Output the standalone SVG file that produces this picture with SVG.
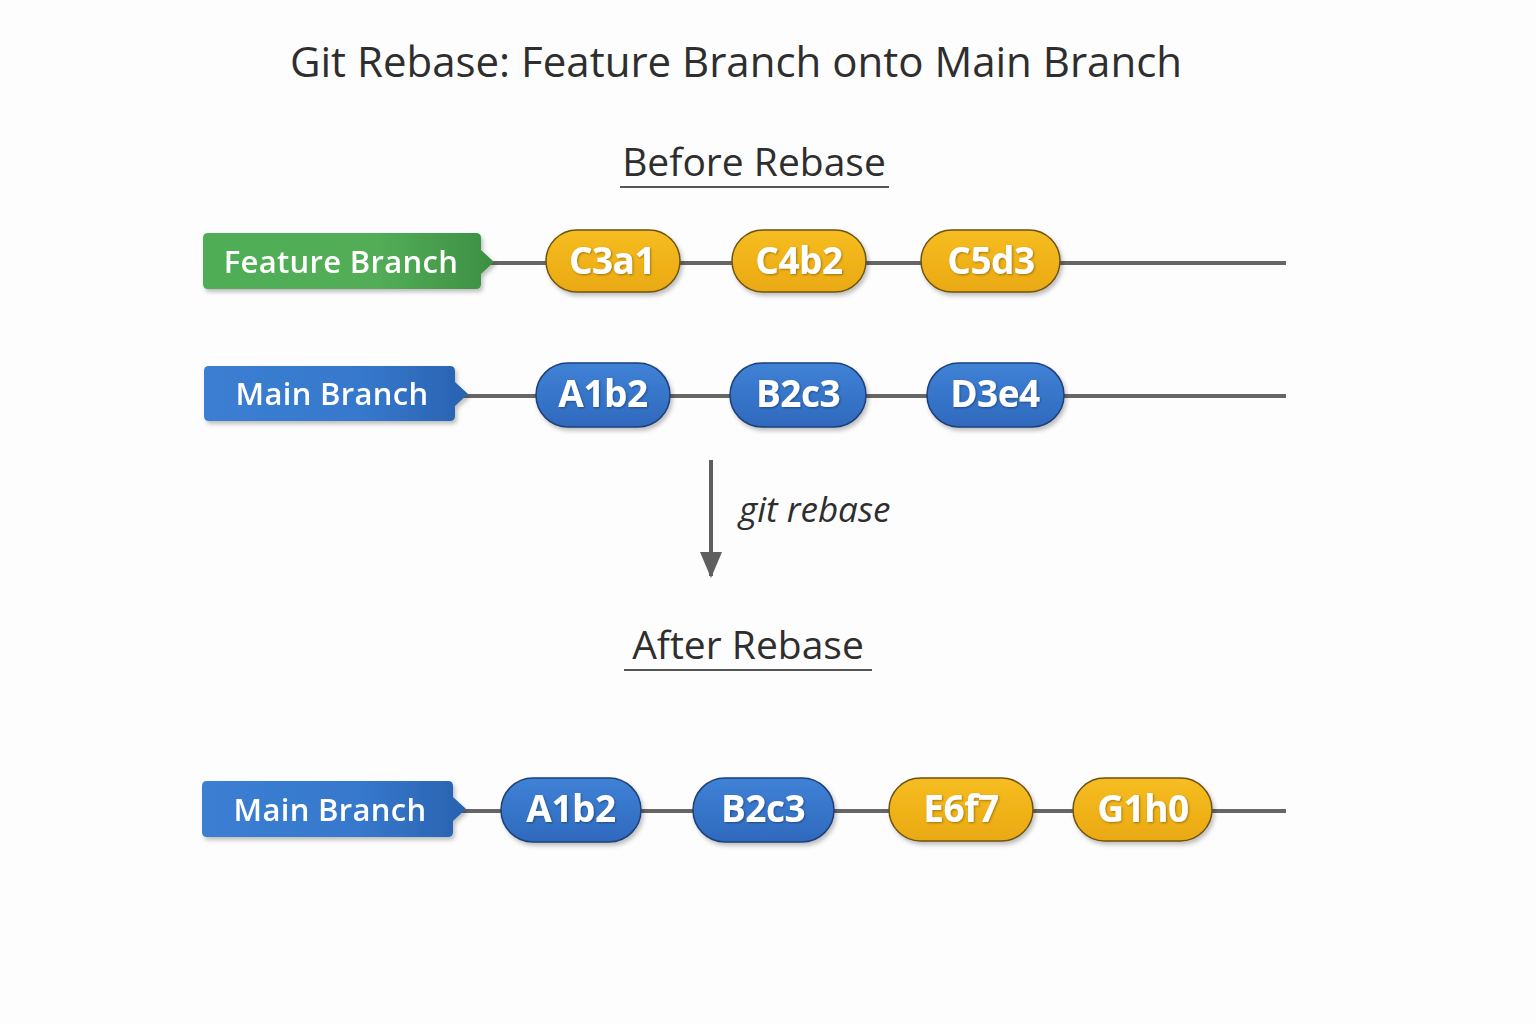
<svg xmlns="http://www.w3.org/2000/svg" width="1536" height="1024" viewBox="0 0 1536 1024">
<defs>
<linearGradient id="gGreen" x1="0" y1="0" x2="1" y2="0"><stop offset="0" stop-color="#4fae55"/><stop offset="0.6" stop-color="#52ad57"/><stop offset="1" stop-color="#3d8f42"/></linearGradient>
<linearGradient id="gBlue" x1="0" y1="0" x2="1" y2="0"><stop offset="0" stop-color="#3b7fd2"/><stop offset="0.6" stop-color="#3678cc"/><stop offset="1" stop-color="#2a62b0"/></linearGradient>
<linearGradient id="gYel" x1="0" y1="0" x2="0" y2="1"><stop offset="0" stop-color="#f6bd22"/><stop offset="1" stop-color="#eaa911"/></linearGradient>
<linearGradient id="gPB" x1="0" y1="0" x2="0" y2="1"><stop offset="0" stop-color="#3f82d6"/><stop offset="1" stop-color="#2f69bd"/></linearGradient>
<filter id="sh" x="-10%" y="-20%" width="130%" height="150%"><feDropShadow dx="2" dy="3" stdDeviation="2" flood-color="#000" flood-opacity="0.25"/></filter>
<filter id="tsh" x="-10%" y="-20%" width="130%" height="150%"><feDropShadow dx="1" dy="1" stdDeviation="0.8" flood-color="#000" flood-opacity="0.35"/></filter>
<marker id="ah" viewBox="0 0 26 22" refX="24" refY="11" markerWidth="26" markerHeight="22" markerUnits="userSpaceOnUse" orient="auto"><path d="M0 0 L26 11 L0 22 Z" fill="#5f5f5f"/></marker>
</defs>
<style>
.title{font-family:"Open Sans","Noto Sans",sans-serif;font-size:42px;font-weight:500;fill:#2e2e2e;text-anchor:middle}
.sub{font-family:"Open Sans","Noto Sans",sans-serif;font-size:39px;font-weight:500;fill:#2e2e2e;text-anchor:middle}
.ul{stroke:#555;stroke-width:2}
.line{stroke:#666;stroke-width:4;fill:none}
.lbl{font-family:"Open Sans","Noto Sans",sans-serif;font-size:31px;fill:#fff;text-anchor:middle;font-weight:600;letter-spacing:0.3px}
.pt{font-family:"Open Sans","Noto Sans",sans-serif;font-size:37px;font-weight:700;fill:#fff;text-anchor:middle;letter-spacing:-0.5px}
.yel{fill:url(#gYel);stroke:#6e5212;stroke-width:1.5}
.blu{fill:url(#gPB);stroke:#1e3f78;stroke-width:1.5}
.it{font-family:"Open Sans","Noto Sans",sans-serif;font-style:italic;font-size:35px;fill:#2e2e2e}
</style>
<rect width="1536" height="1024" fill="#fdfdfd"/>
<text class="title" x="736" y="77">Git Rebase: Feature Branch onto Main Branch</text>
<g id="before-heading"><text class="sub" x="754" y="176">Before Rebase</text><line class="ul" x1="620" y1="187" x2="889" y2="187"/></g>
<g id="after-heading"><text class="sub" x="748" y="659">After Rebase</text><line class="ul" x1="624" y1="670" x2="872" y2="670"/></g>
<g id="connectors">
<line class="line" x1="490" y1="263" x2="1286" y2="263"/>
<line class="line" x1="464" y1="396" x2="1286" y2="396"/>
<line class="line" x1="462" y1="811" x2="1286" y2="811"/>
<line x1="711" y1="460" x2="711" y2="576" stroke="#5f5f5f" stroke-width="4" marker-end="url(#ah)"/>
<text class="it" x="739" y="522">git rebase</text>
</g>
<g id="feature-branch" filter="url(#sh)"><path d="M208 233 H476 Q481 233 481 238 V250 L494 262 L481 274 V284 Q481 289 476 289 H208 Q203 289 203 284 V238 Q203 233 208 233 Z" fill="url(#gGreen)"/><text class="lbl" x="341" y="273">Feature Branch</text></g>
<g id="main-branch-before" filter="url(#sh)"><path d="M209 366 H450 Q455 366 455 371 V382 L468 394 L455 406 V416 Q455 421 450 421 H209 Q204 421 204 416 V371 Q204 366 209 366 Z" fill="url(#gBlue)"/><text class="lbl" x="332" y="405">Main Branch</text></g>
<g id="main-branch-after" filter="url(#sh)"><path d="M207 781 H448 Q453 781 453 786 V797 L466 809 L453 821 V832 Q453 837 448 837 H207 Q202 837 202 832 V786 Q202 781 207 781 Z" fill="url(#gBlue)"/><text class="lbl" x="330" y="821">Main Branch</text></g>
<g id="c3a1" filter="url(#sh)"><rect class="yel" x="546" y="230" width="134" height="62" rx="31"/><text class="pt" x="612" y="274" filter="url(#tsh)">C3a1</text></g>
<g id="c4b2" filter="url(#sh)"><rect class="yel" x="732" y="230" width="134" height="62" rx="31"/><text class="pt" x="799" y="274" filter="url(#tsh)">C4b2</text></g>
<g id="c5d3" filter="url(#sh)"><rect class="yel" x="921" y="230" width="139" height="62" rx="31"/><text class="pt" x="991" y="274" filter="url(#tsh)">C5d3</text></g>
<g id="a1b2-before" filter="url(#sh)"><rect class="blu" x="536" y="363" width="134" height="64" rx="32"/><text class="pt" x="603" y="407" filter="url(#tsh)">A1b2</text></g>
<g id="b2c3-before" filter="url(#sh)"><rect class="blu" x="730" y="363" width="136" height="64" rx="32"/><text class="pt" x="798" y="407" filter="url(#tsh)">B2c3</text></g>
<g id="d3e4" filter="url(#sh)"><rect class="blu" x="927" y="363" width="137" height="64" rx="32"/><text class="pt" x="995" y="407" filter="url(#tsh)">D3e4</text></g>
<g id="a1b2-after" filter="url(#sh)"><rect class="blu" x="501" y="778" width="140" height="64" rx="32"/><text class="pt" x="571" y="822" filter="url(#tsh)">A1b2</text></g>
<g id="b2c3-after" filter="url(#sh)"><rect class="blu" x="693" y="778" width="141" height="64" rx="32"/><text class="pt" x="763" y="822" filter="url(#tsh)">B2c3</text></g>
<g id="e6f7" filter="url(#sh)"><rect class="yel" x="889" y="778" width="144" height="63" rx="31.5"/><text class="pt" x="961" y="822" filter="url(#tsh)">E6f7</text></g>
<g id="g1h0" filter="url(#sh)"><rect class="yel" x="1073" y="778" width="139" height="63" rx="31.5"/><text class="pt" x="1143" y="822" filter="url(#tsh)">G1h0</text></g>
</svg>
